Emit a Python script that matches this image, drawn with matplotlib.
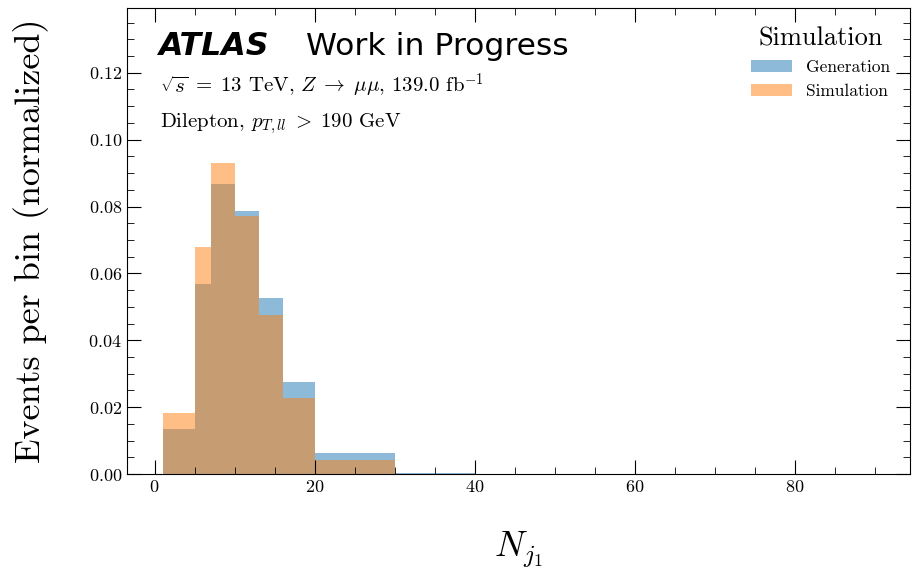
import numpy as np
import matplotlib
matplotlib.use("Agg")
import matplotlib.pyplot as plt
from matplotlib.ticker import MultipleLocator

# bin edges and normalized contents
edges = [1, 5, 7, 10, 13, 16, 20, 30, 40, 90]
gen = [0.0134, 0.0569, 0.0867, 0.0787, 0.0526, 0.0275, 0.0062, 0.0004, 0.0]
sim = [0.0182, 0.0679, 0.0929, 0.0772, 0.0476, 0.0227, 0.0042, 0.0, 0.0]
labels = ["Generation", "Simulation"]

plt.rcParams["font.family"] = "serif"
plt.rcParams["font.serif"] = ["cmr10"]
plt.rcParams["mathtext.fontset"] = "cm"
plt.rcParams["axes.formatter.use_mathtext"] = True

fig = plt.figure(figsize=(9.13, 5.76), dpi=100)
ax = fig.add_axes([0.139, 0.177, 0.858, 0.809])

centers = np.array(edges[:-1])
ax.hist(centers, bins=edges, weights=gen, histtype="stepfilled", color="C0", alpha=0.5, label=labels[0])
ax.hist(centers, bins=edges, weights=sim, histtype="stepfilled", color="C1", alpha=0.5, label=labels[1])

ax.set_ylim(0, 1.5 * max(max(gen), max(sim)))

ax.xaxis.set_major_locator(MultipleLocator(20))
ax.xaxis.set_minor_locator(MultipleLocator(5))
ax.yaxis.set_major_locator(MultipleLocator(0.02))
ax.yaxis.set_minor_locator(MultipleLocator(0.005))
ax.tick_params(which="both", direction="in", top=True, right=True, labelsize=13)
ax.tick_params(which="major", length=10)
ax.tick_params(which="minor", length=5)

ax.set_xlabel(r"$N_{j_1}$", fontsize=26)
ax.set_ylabel("Events per bin (normalized)", fontsize=26)
ax.xaxis.set_label_coords(0.5, -0.12)
ax.yaxis.set_label_coords(-0.10, 0.5)

ax.text(0.040, 0.899, "ATLAS", transform=ax.transAxes, fontsize=22.8,
        family="DejaVu Sans", weight="bold", style="italic")
ax.text(0.228, 0.899, "Work in Progress", transform=ax.transAxes, fontsize=22.6,
        family="DejaVu Sans")
ax.text(0.042, 0.818, r"$\sqrt{s}\;=\;13$ TeV, $Z\;\rightarrow\;\mu\mu$, 139.0 fb$^{-1}$",
        transform=ax.transAxes, fontsize=15)
ax.text(0.042, 0.745, r"Dilepton, $p_{T,ll}\;>\;190$ GeV", transform=ax.transAxes, fontsize=15)

leg = ax.legend(loc="upper right", bbox_to_anchor=(0.99, 0.985), frameon=False,
                fontsize=12.5, title="Simulation", title_fontsize=19,
                handlelength=2.4, borderaxespad=0.3)

fig.savefig("out.png", dpi=100)
